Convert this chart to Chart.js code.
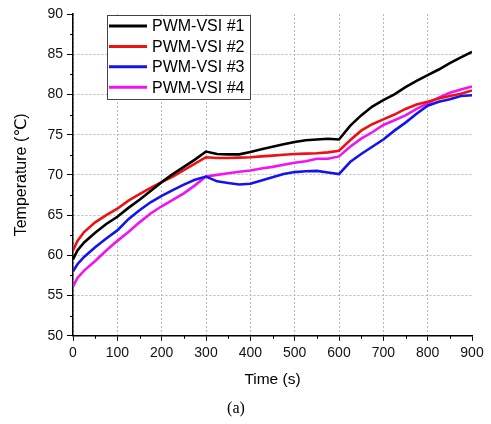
<!DOCTYPE html>
<html>
<head>
<meta charset="utf-8">
<script src="https://cdn.jsdelivr.net/npm/chart.js@4.4.1/dist/chart.umd.min.js"></script>
<style>
  html, body { margin: 0; padding: 0; background: #fff; }
</style>
</head>
<body>
<canvas id="tempChart" width="491" height="424"></canvas>
<script>
// Sample times (s)
const times = [0, 10, 25, 50, 75, 100, 125, 150, 175, 200, 225, 250, 275, 300, 325, 350, 375, 400, 425,
  450, 475, 500, 525, 550, 575, 600, 625, 650, 675, 700, 725, 750, 775, 800, 825, 850, 875, 900];

// Temperature readings (°C) for each inverter
const vsi1 = [59.5, 60.6, 61.6, 62.8, 63.9, 64.8, 65.9, 66.9, 68.0, 69.1, 70.1, 71.0, 71.9, 72.9, 72.6, 72.55, 72.55, 72.85, 73.2,
  73.5, 73.8, 74.1, 74.3, 74.4, 74.5, 74.4, 76.1, 77.4, 78.5, 79.3, 80.0, 80.9, 81.7, 82.4, 83.1, 83.9, 84.6, 85.3];
const vsi2 = [60.6, 61.8, 62.9, 64.1, 65.0, 65.8, 66.8, 67.6, 68.4, 69.1, 69.8, 70.6, 71.4, 72.2, 72.1, 72.1, 72.15, 72.2, 72.3,
  72.4, 72.5, 72.6, 72.65, 72.7, 72.8, 73.0, 74.3, 75.5, 76.3, 76.9, 77.5, 78.2, 78.75, 79.1, 79.5, 79.8, 80.1, 80.5];
const vsi3 = [58.0, 58.9, 59.8, 61.0, 62.1, 63.1, 64.5, 65.6, 66.6, 67.4, 68.1, 68.8, 69.4, 69.8, 69.2, 69.0, 68.8, 68.9, 69.3,
  69.7, 70.1, 70.35, 70.45, 70.5, 70.3, 70.1, 71.6, 72.6, 73.5, 74.4, 75.5, 76.5, 77.6, 78.6, 79.1, 79.4, 79.8, 79.9];
const vsi4 = [56.1, 57.2, 58.1, 59.3, 60.6, 61.8, 62.9, 64.1, 65.2, 66.1, 66.9, 67.7, 68.7, 69.8, 70.0, 70.2, 70.4, 70.55, 70.8,
  71.0, 71.25, 71.5, 71.7, 72.0, 72.0, 72.3, 73.5, 74.5, 75.3, 76.2, 76.8, 77.4, 78.2, 78.9, 79.6, 80.2, 80.6, 81.0];

const seriesNames = ['PWM-VSI #1', 'PWM-VSI #2', 'PWM-VSI #3', 'PWM-VSI #4'];
const seriesValues = [vsi1, vsi2, vsi3, vsi4];
const seriesColors = ['#000000', '#ee1111', '#1414ee', '#f014f0'];

// Axis ticks
const xTicks = [0, 100, 200, 300, 400, 500, 600, 700, 800, 900];
const yTicks = [50, 55, 60, 65, 70, 75, 80, 85, 90];

const FONT = 'Arial, "Liberation Sans", "DejaVu Sans", sans-serif';

const datasets = seriesValues.map((vals, i) => ({
  label: seriesNames[i],
  data: times.map((t, j) => ({ x: t, y: vals[j] })),
  borderColor: seriesColors[i],
  backgroundColor: seriesColors[i],
  borderWidth: 2.6,
  pointRadius: 0,
  tension: 0
}));

// small ticks halfway between the labelled ones
const minorTicks = {
  id: 'minorTicks',
  afterDraw(chart) {
    const { ctx, scales: { x, y } } = chart;
    ctx.save();
    ctx.strokeStyle = '#000';
    ctx.lineWidth = 1;
    ctx.beginPath();
    for (let i = 0; i < xTicks.length - 1; i++) {
      const px = Math.round(x.getPixelForValue((xTicks[i] + xTicks[i + 1]) / 2)) + 0.5;
      ctx.moveTo(px, y.bottom);
      ctx.lineTo(px, y.bottom + 3);
    }
    for (let i = 0; i < yTicks.length - 1; i++) {
      const py = Math.round(y.getPixelForValue((yTicks[i] + yTicks[i + 1]) / 2)) + 0.5;
      ctx.moveTo(x.left, py);
      ctx.lineTo(x.left - 3, py);
    }
    ctx.stroke();
    ctx.restore();
  }
};

// boxed legend inside the plot, top left
const legendBox = {
  id: 'legendBox',
  afterDatasetsDraw(chart) {
    const { ctx, chartArea } = chart;
    const left = chartArea.left + 34, top = chartArea.top + 1;
    const w = 143, h = 84, rowH = 20.4;
    ctx.save();
    ctx.fillStyle = '#fff';
    ctx.fillRect(left, top, w, h);
    ctx.strokeStyle = '#444';
    ctx.lineWidth = 1;
    ctx.strokeRect(left + 0.5, top + 0.5, w, h);
    ctx.font = '16px ' + FONT;
    ctx.textBaseline = 'middle';
    seriesNames.forEach((name, i) => {
      const cy = top + 11 + i * rowH;
      ctx.strokeStyle = seriesColors[i];
      ctx.lineWidth = 3;
      ctx.beginPath();
      ctx.moveTo(left + 2, cy);
      ctx.lineTo(left + 40, cy);
      ctx.stroke();
      ctx.fillStyle = '#000';
      ctx.fillText(name, left + 45, cy + 1);
    });
    ctx.restore();
  }
};

const hideEdge = (edge) => (c) => (c.tick && c.tick.value === edge) ? 'rgba(0,0,0,0)' : '#b8b8b8';

new Chart(document.getElementById('tempChart'), {
  type: 'line',
  data: { datasets: datasets },
  options: {
    responsive: false,
    animation: false,
    devicePixelRatio: 1,
    layout: { padding: { left: 0, top: 14, right: 19, bottom: 0 } },
    plugins: {
      legend: { display: false },
      tooltip: { enabled: false },
      title: {
        display: true,
        position: 'bottom',
        text: '(a)',
        color: '#000',
        font: { family: '"Liberation Serif", "DejaVu Serif", serif', size: 16, weight: 'normal' },
        padding: { top: 0, bottom: 6 }
      }
    },
    scales: {
      x: {
        type: 'linear',
        min: 0,
        max: 900,
        afterBuildTicks: (s) => { s.ticks = xTicks.map(v => ({ value: v })); },
        afterFit: (s) => { s.height = 63; },
        ticks: { color: '#111', font: { family: FONT, size: 14 }, padding: 4 },
        grid: { color: hideEdge(900), lineWidth: 1, tickColor: '#000', tickLength: 5, tickWidth: 1 },
        border: { color: '#000', width: 1.5, dash: [2, 2] },
        title: { display: true, text: 'Time (s)', color: '#000', font: { family: FONT, size: 15.5 }, padding: { top: 0, bottom: 10 } }
      },
      y: {
        min: 50,
        max: 90,
        afterBuildTicks: (s) => { s.ticks = yTicks.map(v => ({ value: v })); },
        afterFit: (s) => { s.width = 73; },
        ticks: { color: '#111', font: { family: FONT, size: 14 }, padding: 4 },
        grid: { color: hideEdge(90), lineWidth: 1, tickColor: '#000', tickLength: 6, tickWidth: 1 },
        border: { color: '#000', width: 1.5, dash: [2, 2] },
        title: { display: true, text: 'Temperature (℃)', color: '#000', font: { family: FONT, size: 16 }, padding: { top: 12, bottom: 0 } }
      }
    }
  },
  plugins: [legendBox, minorTicks]
});
</script>
</body>
</html>
